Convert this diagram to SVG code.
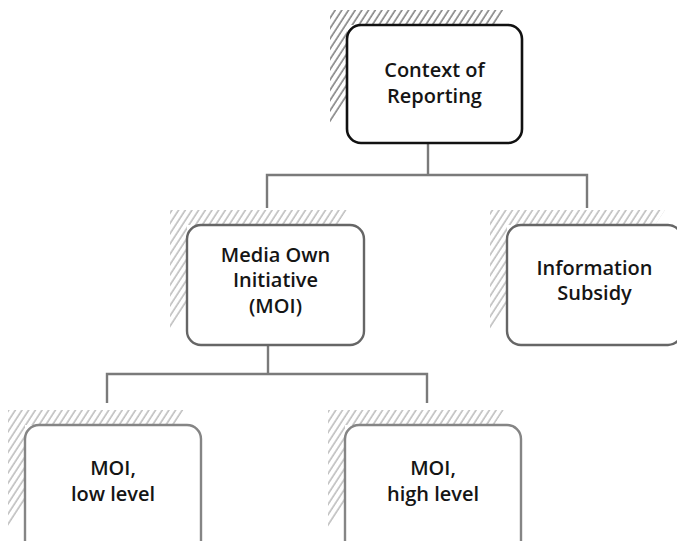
<svg xmlns="http://www.w3.org/2000/svg" width="677" height="541" viewBox="0 0 677 541">
  <defs>
    <!-- diagonal hatching used for the offset shadows behind each box -->
    <pattern id="hatchDark" patternUnits="userSpaceOnUse" width="5.6" height="10" patternTransform="rotate(33)">
      <line x1="1" y1="0" x2="1" y2="10" stroke="#1a1a1a" stroke-width="0.9"/>
    </pattern>
    <pattern id="hatchGrey" patternUnits="userSpaceOnUse" width="5.6" height="10" patternTransform="rotate(33)">
      <line x1="1" y1="0" x2="1" y2="10" stroke="#888888" stroke-width="0.9"/>
    </pattern>
    <style>
      .label { font-family: "Open Sans", "Noto Sans", "Liberation Sans", sans-serif; font-size: 20px; font-weight: 600; fill: #151515; text-anchor: middle; }
      .root { fill: #ffffff; stroke: #111111; stroke-width: 2.6; }
      .mid { fill: #ffffff; stroke: #666666; stroke-width: 2.4; }
      .leaf { fill: #ffffff; stroke: #858585; stroke-width: 2.4; }
      .wire { fill: none; stroke: #7a7a7a; stroke-width: 2.4; }
    </style>
  </defs>

  <!-- tree connectors -->
  <g id="connectors">
    <path class="wire" d="M428 143 V175 M267 208 V175 H587 V208"/>
    <path class="wire" d="M268 345 V374 M107 403 V374 H427 V403"/>
  </g>

  <!-- each shadow is an L-shaped hatched band, ends cut along the hatch slant -->
  <g id="node-context">
    <polygon points="330,10 505,10 495,25 347,25 347,102 330,128" fill="url(#hatchDark)"/>
    <rect class="root" x="347" y="25" width="175" height="118" rx="14"/>
    <text class="label" x="434.5" y="77">Context of</text>
    <text class="label" x="434.5" y="102.5">Reporting</text>
  </g>

  <g id="node-moi">
    <polygon points="170,210 347,210 337,225 187,225 187,304 170,330" fill="url(#hatchGrey)"/>
    <rect class="mid" x="187" y="225" width="177" height="120" rx="14"/>
    <text class="label" x="275.5" y="261.5">Media Own</text>
    <text class="label" x="275.5" y="287">Initiative</text>
    <text class="label" x="275.5" y="312.5">(MOI)</text>
  </g>

  <g id="node-subsidy">
    <polygon points="490,210 665,210 655,225 507,225 507,304 490,330" fill="url(#hatchGrey)"/>
    <rect class="mid" x="507" y="225" width="175" height="120" rx="14"/>
    <text class="label" x="594.5" y="274.5">Information</text>
    <text class="label" x="594.5" y="300">Subsidy</text>
  </g>

  <g id="node-moi-low">
    <polygon points="8,410 184,410 174,425 25,425 25,504 8,530" fill="url(#hatchGrey)"/>
    <rect class="leaf" x="25" y="425" width="176" height="130" rx="14"/>
    <text class="label" x="113" y="475">MOI,</text>
    <text class="label" x="113" y="501">low level</text>
  </g>

  <g id="node-moi-high">
    <polygon points="328,410 504,410 494,425 345,425 345,504 328,530" fill="url(#hatchGrey)"/>
    <rect class="leaf" x="345" y="425" width="176" height="130" rx="14"/>
    <text class="label" x="433" y="475">MOI,</text>
    <text class="label" x="433" y="501">high level</text>
  </g>
</svg>
